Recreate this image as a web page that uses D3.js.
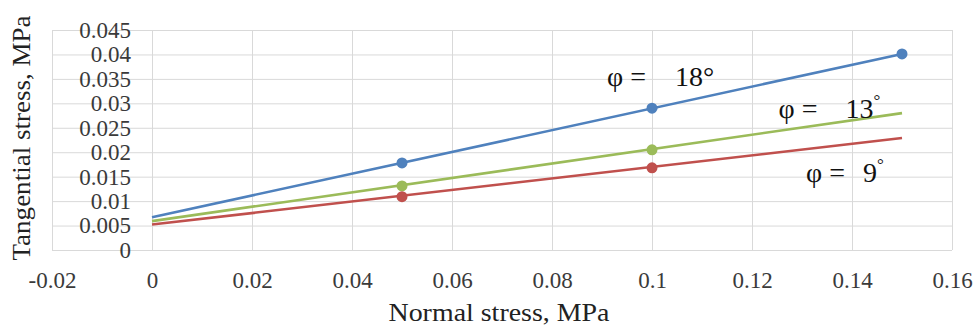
<!DOCTYPE html>
<html>
<head>
<meta charset="utf-8">
<script src="https://cdn.jsdelivr.net/npm/d3@7"></script>
<style>
  body { margin: 0; background: #fff; }
  svg { display: block; }
  svg text { font-family: "Liberation Serif", "Times New Roman", serif; }
</style>
</head>
<body>
<svg width="974" height="326"></svg>
<script>
// measured points (normal stress, tangential stress)
const normalStress = [0.05, 0.1, 0.15];
const tau18 = [0.0178, 0.029, 0.0401];
const tau13 = [0.0131, 0.0205];
const tau9 = [0.0109, 0.0168];

// linear trend lines, from 0 to 0.15
const trendX = [0, 0.15];
const trend18 = [0.0067, 0.0401];
const trend13 = [0.0059, 0.028];
const trend9 = [0.0052, 0.0229];

const xTicks = [-0.02, 0, 0.02, 0.04, 0.06, 0.08, 0.1, 0.12, 0.14, 0.16];
const yTicks = [0, 0.005, 0.01, 0.015, 0.02, 0.025, 0.03, 0.035, 0.04, 0.045];

// phi annotations: where the "φ =" goes, where the angle goes
const labels = [
  { angle: '18', px: 0.091, vx: 0.1046, y: 0.0336, small: false },
  { angle: '13', px: 0.1253, vx: 0.1387, y: 0.0270, small: true },
  { angle: '9', px: 0.1308, vx: 0.1422, y: 0.0140, small: true }
];

const series = [
  { color: '#4f81bd', pts: tau18, trend: trend18 },
  { color: '#9bbb59', pts: tau13, trend: trend13 },
  { color: '#c0504d', pts: tau9, trend: trend9 }
];

const serif = '"Liberation Serif", "Times New Roman", serif';
const svg = d3.select('svg');

const x = d3.scaleLinear().domain([-0.02, 0.16]).range([52, 952]);
const y = d3.scaleLinear().domain([0, 0.045]).range([250, 30]);

const fmt = d => d === 0 ? '0' : String(+d.toFixed(3));

// grid
svg.append('g')
  .attr('transform', 'translate(0,250)')
  .call(d3.axisBottom(x).tickValues(xTicks).tickSize(-220).tickFormat(''))
  .call(g => g.select('.domain').remove())
  .call(g => g.selectAll('line').attr('stroke', '#d9d9d9'));

svg.append('g')
  .attr('transform', 'translate(52,0)')
  .call(d3.axisLeft(y).tickValues(yTicks).tickSize(-900).tickFormat(''))
  .call(g => g.select('.domain').remove())
  .call(g => g.selectAll('line').attr('stroke', '#d9d9d9'));

// tick labels
svg.append('g')
  .attr('transform', 'translate(0,250)')
  .call(d3.axisBottom(x).tickValues(xTicks).tickSize(0).tickPadding(22).tickFormat(fmt))
  .attr('font-family', serif)
  .attr('font-size', null)
  .call(g => g.select('.domain').remove())
  .call(g => g.selectAll('text')
    .style('font-family', serif)
    .style('font-size', '23px')
    .style('fill', '#3a3a3a'));

svg.append('g')
  .attr('transform', 'translate(52,0)')
  .call(d3.axisLeft(y).tickValues(yTicks).tickSize(0).tickPadding(-79).tickFormat(fmt))
  .attr('font-family', serif)
  .attr('font-size', null)
  .call(g => g.select('.domain').remove())
  .call(g => g.selectAll('text')
    .style('font-family', serif)
    .style('font-size', '23px')
    .style('fill', '#3a3a3a'));

// trend lines and measured points
const line = d3.line().x((d, i) => x(trendX[i])).y(d => y(d));
series.forEach(s => {
  svg.append('path')
    .attr('d', line(s.trend))
    .attr('fill', 'none')
    .attr('stroke', s.color)
    .attr('stroke-width', 2.6);

  svg.append('g')
    .selectAll('circle')
    .data(s.pts)
    .join('circle')
    .attr('cx', (d, i) => x(normalStress[i]))
    .attr('cy', d => y(d))
    .attr('r', 5.5)
    .attr('fill', s.color);
});

// phi labels
labels.forEach(l => {
  const t = svg.append('text')
    .attr('y', y(l.y))
    .style('font-size', '28px')
    .attr('fill', '#111');
  t.append('tspan').attr('x', x(l.px)).text('φ =');
  t.append('tspan').attr('x', x(l.vx)).text(l.angle + (l.small ? '' : '°'));
  if (l.small) {
    t.append('tspan')
      .style('font-size', '17px')
      .attr('dy', -12)
      .text('°');
  }
});

// axis titles
svg.append('text')
  .attr('x', 499)
  .attr('y', 321)
  .attr('text-anchor', 'middle')
  .attr('textLength', 221)
  .attr('lengthAdjust', 'spacingAndGlyphs')
  .style('font-size', '25px')
  .attr('fill', '#222')
  .text('Normal stress, MPa');

svg.append('text')
  .attr('transform', 'translate(30,138) rotate(-90)')
  .attr('text-anchor', 'middle')
  .attr('textLength', 245)
  .attr('lengthAdjust', 'spacingAndGlyphs')
  .style('font-size', '25px')
  .attr('fill', '#222')
  .text('Tangential stress, MPa');
</script>
</body>
</html>
